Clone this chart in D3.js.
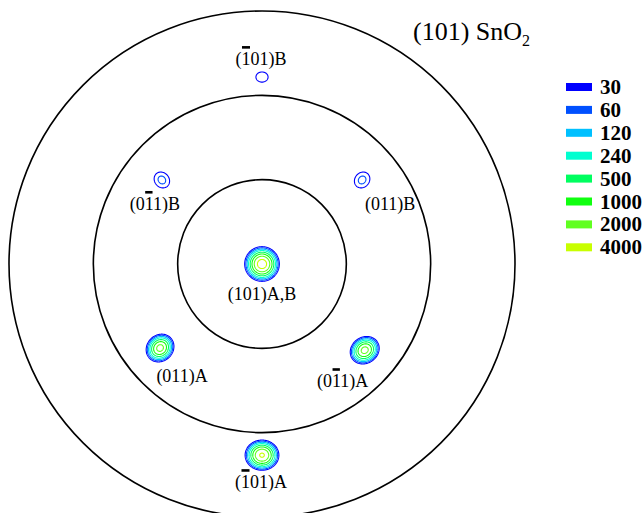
<!DOCTYPE html>
<html>
<head>
<meta charset="utf-8">
<script src="https://cdn.jsdelivr.net/npm/d3@7"></script>
<style>
  body { margin: 0; background: #fff; }
  svg { display: block; }
</style>
</head>
<body>
<div id="chart"></div>
<script>
// contour levels (counts) and their colours
const levels = [30, 60, 120, 240, 500, 1000, 2000, 4000];
const levelColors = ["#0000ff", "#0050ff", "#00c0ff", "#00ffd0", "#00ff60", "#10ff10", "#60ff20", "#c8ff00"];

// tilt angle (psi, deg) of the reference rings
const ringPsi = [30, 60, 90];

// poles: label, barred character, psi, phi, peak counts, widths (deg), tilt of the spot
const spotNames = ["(101)A,B", "(101)B", "(011)B", "(011)B", "(011)A", "(011)A", "(101)A"];
const spotBar   = [-1, 1, -1, 2, 2, -1, 1];
const spotPsi   = [0, 66.5, 46.5, 46.5, 47.7, 47, 68];
const spotPhi   = [0, 0, 50, 310, 130, 230.5, 180];
const spotPeak  = [5760, 45, 75, 75, 2600, 2600, 4400];
const spotWidthA = [1.9, 2.4, 2.2, 2.2, 1.8, 1.75, 1.9];
const spotWidthB = [1.9, 2.0, 1.9, 1.9, 1.55, 1.55, 1.7];
const spotTilt  = [0, 0, -50, 50, -35, -45, 0];

const width = 644, height = 513;
const cx = 262, cy = 264;

// where each label sits relative to its pole
const labelOffset = [[0, 36], [-1, -12], [28, 30], [-7, 30], [-22, 37], [22, 34], [-1, 33]];

const svg = d3.select("#chart").append("svg")
    .attr("width", width)
    .attr("height", height);

const r = d3.scaleLinear().domain([0, 90]).range([0, 253]);

const project = (psi, phi) => {
    const a = phi * Math.PI / 180;
    return [cx + r(psi) * Math.sin(a), cy - r(psi) * Math.cos(a)];
};

svg.append("g").selectAll("circle")
    .data(ringPsi)
    .enter().append("circle")
    .attr("cx", cx)
    .attr("cy", cy)
    .attr("r", d => r(d))
    .attr("fill", "none")
    .attr("stroke", "#000")
    .attr("stroke-width", 1.6);

const color = d3.scaleOrdinal().domain(levels).range(levelColors);

// contour each pole on its own small grid
const step = 0.5, n = 140, half = n * step / 2;
const pxPerDeg = r(1);

const spotG = svg.append("g");
spotNames.forEach((name, k) => {
    const [x0, y0] = project(spotPsi[k], spotPhi[k]);
    const sa = spotWidthA[k] * pxPerDeg, sb = spotWidthB[k] * pxPerDeg;
    const t = spotTilt[k] * Math.PI / 180;
    const values = new Float64Array(n * n);
    for (let j = 0; j < n; j++) {
        for (let i = 0; i < n; i++) {
            const x = (i + 0.5) * step - half, y = (j + 0.5) * step - half;
            const u = x * Math.cos(t) + y * Math.sin(t);
            const v = -x * Math.sin(t) + y * Math.cos(t);
            values[j * n + i] = spotPeak[k] * Math.exp(-(u * u) / (2 * sa * sa) - (v * v) / (2 * sb * sb));
        }
    }
    const contours = d3.contours().size([n, n]).thresholds(levels)(values);
    const path = d3.geoPath(d3.geoIdentity().scale(step).translate([x0 - half, y0 - half]));
    spotG.append("g").selectAll("path")
        .data(contours.filter(c => c.coordinates.length))
        .enter().append("path")
        .attr("d", path)
        .attr("fill", "none")
        .attr("stroke", d => color(d.value))
        .attr("stroke-width", 1.1);
});

// labels with overbars
const labelG = svg.append("g")
    .attr("font-family", "'Liberation Serif', 'Times New Roman', serif")
    .attr("font-size", 18);

spotNames.forEach((name, k) => {
    const [x0, y0] = project(spotPsi[k], spotPhi[k]);
    const tx = x0 + labelOffset[k][0], ty = y0 + labelOffset[k][1];
    const txt = labelG.append("text")
        .attr("x", tx)
        .attr("y", ty)
        .attr("text-anchor", "middle")
        .text(name);
    if (spotBar[k] >= 0) {
        const ext = txt.node().getExtentOfChar(spotBar[k]);
        labelG.append("rect")
            .attr("x", ext.x + 0.5)
            .attr("y", ty - 19)
            .attr("width", ext.width - 1)
            .attr("height", 2.6)
            .attr("fill", "#000");
    }
});

// title
const title = svg.append("text")
    .attr("x", 413)
    .attr("y", 40)
    .attr("font-family", "'Liberation Serif', 'Times New Roman', serif")
    .attr("font-size", 26);
title.append("tspan").text("(101) SnO");
title.append("tspan").attr("font-size", 16).attr("dy", 6).text("2");

// legend
const legend = svg.append("g")
    .selectAll("g")
    .data(levels)
    .enter().append("g")
    .attr("transform", (d, i) => `translate(566,${87 + i * 22.9})`);

legend.append("rect")
    .attr("x", 0)
    .attr("y", -4)
    .attr("width", 26)
    .attr("height", 8)
    .attr("fill", d => color(d));

legend.append("text")
    .attr("x", 34)
    .attr("y", 7)
    .attr("font-family", "'Liberation Serif', 'Times New Roman', serif")
    .attr("font-weight", "bold")
    .attr("font-size", 21)
    .text(d => d);
</script>
</body>
</html>
